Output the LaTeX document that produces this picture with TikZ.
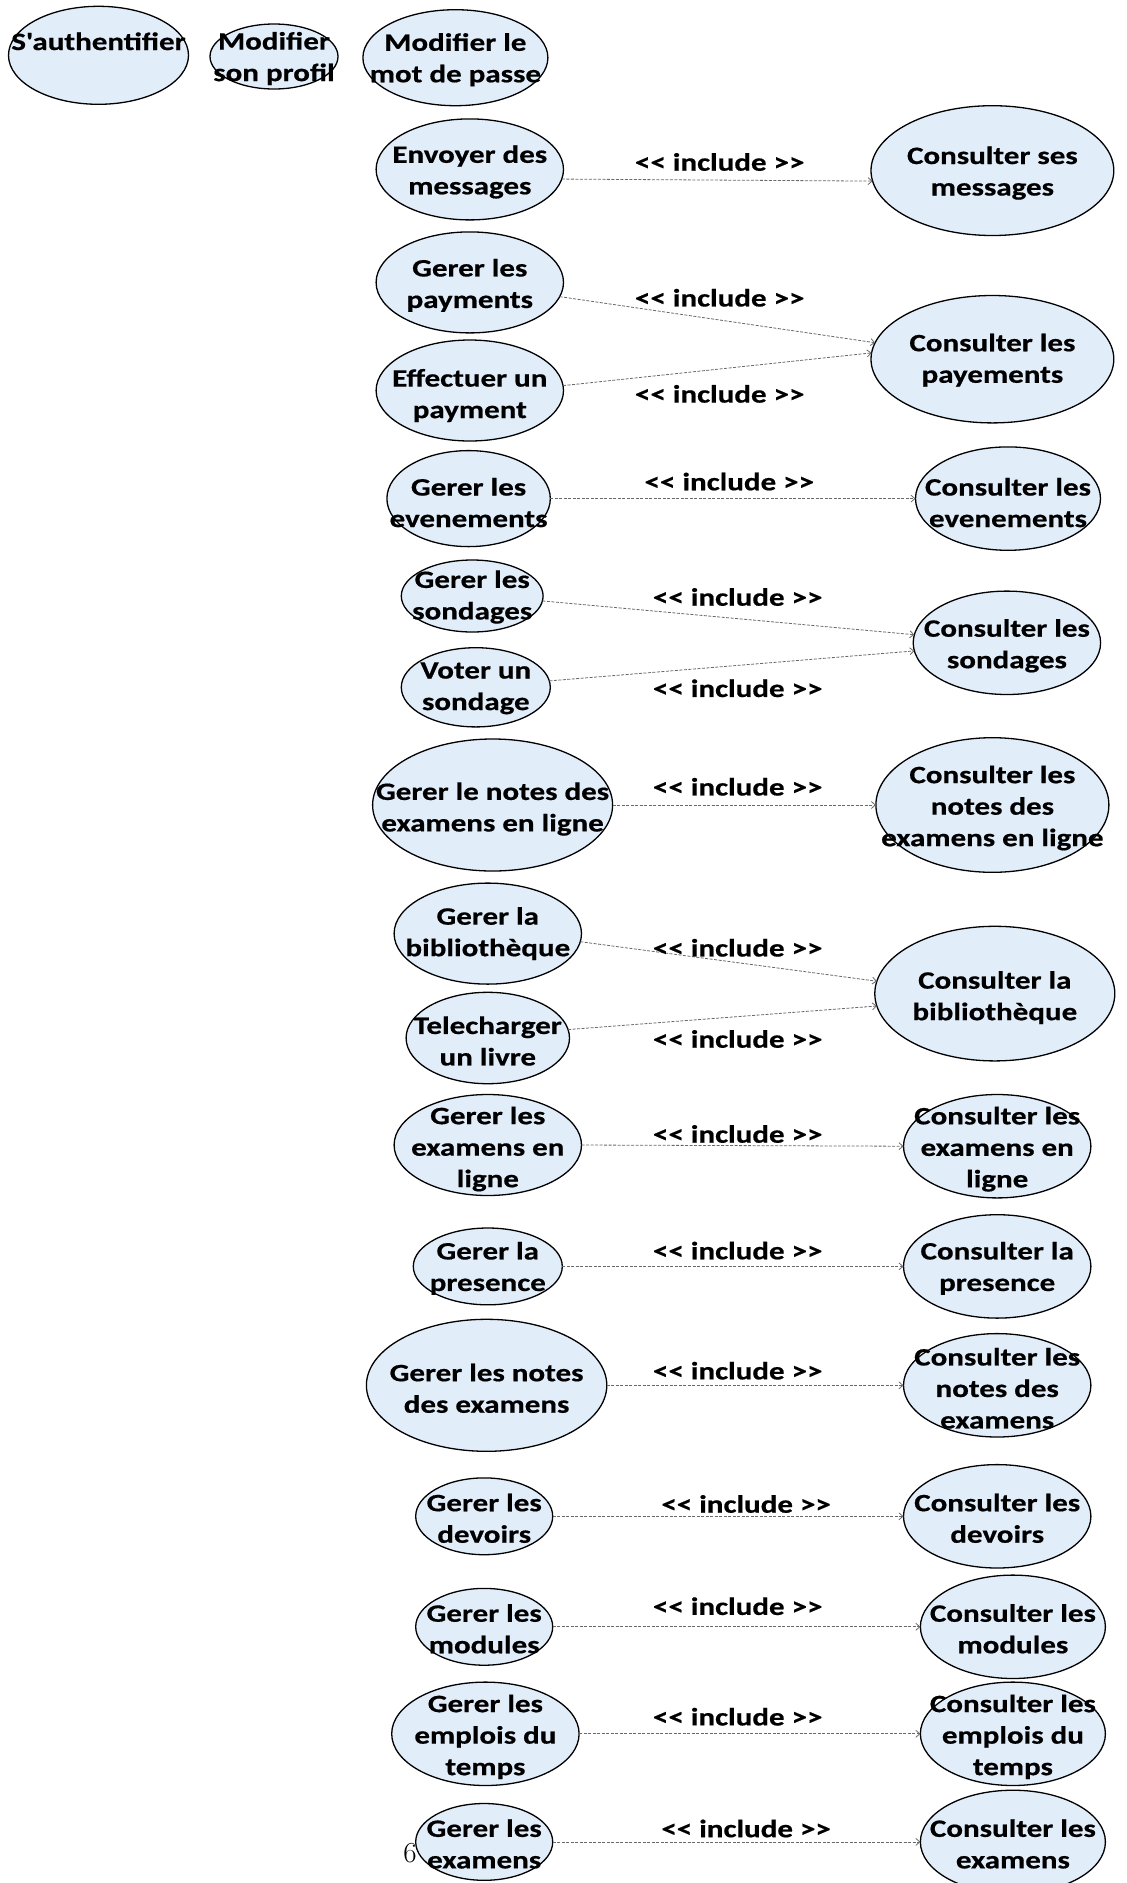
\documentclass[tikz,border=0pt]{standalone}
\usepackage{fontspec}
\usetikzlibrary{arrows.meta,shapes.geometric}
\newfontfamily\ucfont{Carlito}[FakeStretch=1.24,FakeBold=0.6,Ligatures=TeXOff]
\definecolor{ucfill}{RGB}{226,237,250}
\definecolor{linkgray}{RGB}{105,105,105}

% #1 name, #2 x, #3 y, #4 x radius, #5 y radius, #6 text offset, #7 text
\newcommand\usecase[7]{%
  \node[ucshape, minimum width=#4*2pt, minimum height=#5*2pt] (#1) at (#2,#3) {};
  \node[uctext] (#1-text) at ({#2},{#3+#6+2}) {#7};
}

\begin{document}
\begin{tikzpicture}[x=1pt,y=-1pt,
  ucshape/.style={ellipse, draw=black, line width=1.3pt, fill=ucfill, inner sep=0pt, outer sep=0pt},
  uctext/.style={align=center, inner sep=0pt, font=\ucfont\bfseries\fontsize{25}{31.5}\selectfont},
  inclabel/.style={inner sep=0pt, font=\ucfont\bfseries\fontsize{25}{31.5}\selectfont},
  include/.style={draw=linkgray, line width=0.8pt, dash pattern=on 3pt off 1.5pt,
    -{Straight Barb[length=4pt,width=7pt]}}]
\useasboundingbox (0,0) rectangle (1127,1883);
\clip (0,0) rectangle (1127,1883);

% actor-level use cases
\usecase{auth}{98.5}{55.3}{90}{49}{-16}{S'authentifier}
\usecase{profil}{274}{56.5}{64}{32.5}{0}{Modifier\\son profil}
\usecase{mdp}{455.4}{57.7}{92.5}{48}{0}{Modifier le\\mot de passe}

% messages
\usecase{send}{469.8}{169.4}{93.7}{50.5}{0.5}{Envoyer des\\messages}
\usecase{msgs}{992.4}{170.6}{121.4}{64.9}{0.5}{Consulter ses\\messages}
% payments
\usecase{gpay}{469.8}{282.4}{93.7}{50.5}{1}{Gerer les\\payments}
\usecase{epay}{469.8}{390.5}{93.7}{50.5}{3}{Effectuer un\\payment}
\usecase{cpay}{992.4}{359.2}{121.4}{63.7}{-1}{Consulter les\\payements}
% events
\usecase{gev}{468.6}{498.6}{81.7}{48}{2}{Gerer les\\evenements}
\usecase{cev}{1008}{498.6}{92.5}{51.7}{2}{Consulter les\\evenements}
% polls
\usecase{gsond}{472.2}{596}{70.9}{36}{-1}{Gerer les\\sondages}
\usecase{vote}{475.8}{687.3}{74.5}{39.6}{-1}{Voter un\\sondage}
\usecase{csond}{1006.9}{642.8}{93.7}{51.7}{1}{Consulter les\\sondages}
% online exam marks
\usecase{gnel}{492.6}{805}{120}{66}{2}{Gerer le notes des\\examens en ligne}
\usecase{cnel}{992.4}{805}{116.5}{67.3}{1}{Consulter les\\notes des\\examens en ligne}
% library
\usecase{gbib}{487.8}{933.6}{93.7}{50.5}{-2}{Gerer la\\bibliothèque}
\usecase{tele}{487.8}{1038}{81.7}{45.7}{1}{Telecharger\\un livre}
\usecase{cbib}{994.8}{993.6}{120}{67.3}{2}{Consulter la\\bibliothèque}
% online exams
\usecase{gexl}{487.8}{1145}{93.7}{50.5}{2}{Gerer les\\examens en\\ligne}
\usecase{cexl}{997.2}{1146.2}{93.7}{51.7}{1}{Consulter les\\examens en\\ligne}
% attendance
\usecase{gpres}{487.8}{1266.4}{74.5}{38.4}{0}{Gerer la\\presence}
\usecase{cpres}{997.2}{1266.4}{93.7}{51.7}{0}{Consulter la\\presence}
% exam marks
\usecase{gnot}{486.6}{1385.3}{120.2}{66}{1}{Gerer les notes\\des examens}
\usecase{cnot}{997.2}{1385.3}{93.7}{51.7}{1}{Consulter les\\notes des\\examens}
% homework
\usecase{gdev}{484.2}{1516.3}{68.5}{38.4}{0}{Gerer les\\devoirs}
\usecase{cdev}{997.2}{1516.3}{93.7}{51.7}{0}{Consulter les\\devoirs}
% modules
\usecase{gmod}{484.2}{1626.8}{68.5}{38.4}{0}{Gerer les\\modules}
\usecase{cmod}{1012.9}{1626.8}{92.5}{51.7}{0}{Consulter les\\modules}
% timetables
\usecase{gemp}{485.4}{1733.8}{93.7}{51.7}{1}{Gerer les\\emplois du\\temps}
\usecase{cemp}{1012.9}{1733.8}{92.5}{51.7}{1}{Consulter les\\emplois du\\temps}
% exams
\usecase{gexa}{484.2}{1841.9}{68.5}{38.4}{0}{Gerer les\\examens}
\usecase{cexa}{1012.9}{1841.9}{92.5}{51.7}{0}{Consulter les\\examens}

% include relations
\draw[include] (send.-6) -- (msgs.185);
\draw[include] (gpay.-9) -- (cpay.172);
\draw[include] (epay.3) -- (cpay.177);
\draw[include] (gev.0) -- (cev.180);
\draw[include] (gsond.-4) -- (csond.175);
\draw[include] (vote.5) -- (csond.185);
\draw[include] (gnel.0) -- (cnel.180);
\draw[include] (gbib.-5) -- (cbib.174);
\draw[include] (tele.6) -- (cbib.186);
\draw[include] (gexl.east) -- (cexl.west);
\draw[include] (gpres.east) -- (cpres.west);
\draw[include] (gnot.east) -- (cnot.west);
\draw[include] (gdev.east) -- (cdev.west);
\draw[include] (gmod.east) -- (cmod.west);
\draw[include] (gemp.east) -- (cemp.west);
\draw[include] (gexa.east) -- (cexa.west);

% stereotype labels
\node[inclabel] (l1) at (719.7,162) {<< include >>};
\node[inclabel] (l2) at (719.7,297.8) {<< include >>};
\node[inclabel] (l3) at (719.7,393.9) {<< include >>};
\node[inclabel] (l4) at (729.3,481.6) {<< include >>};
\node[inclabel] (l5) at (737.7,597) {<< include >>};
\node[inclabel] (l6) at (737.7,688.3) {<< include >>};
\node[inclabel] (l7) at (737.7,786.8) {<< include >>};
\node[inclabel] (l8) at (737.7,947.8) {<< include >>};
\node[inclabel] (l9) at (737.7,1039) {<< include >>};
\node[inclabel] (l10) at (737.7,1134) {<< include >>};
\node[inclabel] (l11) at (737.7,1250.6) {<< include >>};
\node[inclabel] (l12) at (737.7,1370.7) {<< include >>};
\node[inclabel] (l13) at (746.1,1504) {<< include >>};
\node[inclabel] (l14) at (737.7,1606.2) {<< include >>};
\node[inclabel] (l15) at (737.7,1716.7) {<< include >>};
\node[inclabel] (l16) at (746.1,1828.5) {<< include >>};

% page number
\node[inner sep=0pt, font=\fontsize{29}{29}\selectfont] (pnum) at (410,1853) {6};
\end{tikzpicture}
\end{document}
